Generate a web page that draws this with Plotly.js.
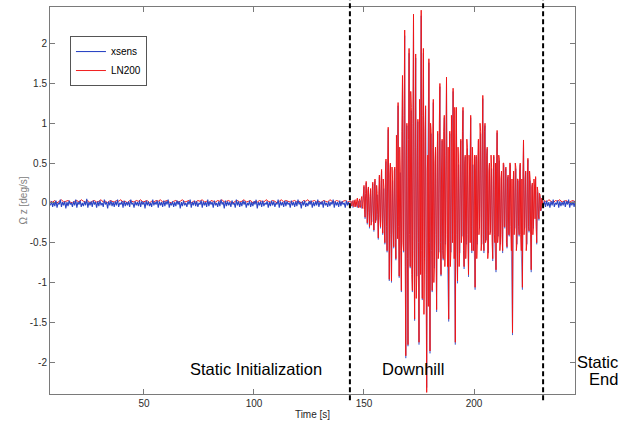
<!DOCTYPE html>
<html><head><meta charset="utf-8">
<script src="https://cdn.plot.ly/plotly-3.0.1.min.js"></script>
<style>html,body{margin:0;padding:0;background:#fff}#chart{width:629px;height:422px}</style>
</head><body><div id="chart"></div>
<script>
// ---- sampling (start time [s], step [s]) ----
const xsensStaticInitStart = 7.5, xsensStaticInitStep = 0.5;
const ln200StaticInitStart = 7.5, ln200StaticInitStep = 1.0;
const ln200DownhillStart = 144.0, ln200DownhillStep = 0.25;
const xsensDownhillStart = 144.0, xsensDownhillStep = 0.5;
const xsensStaticEndStart = 231.5, xsensStaticEndStep = 0.5;
const ln200StaticEndStart = 232.0, ln200StaticEndStep = 1.0;

// ---- values: angular rate about z [deg/s] ----
const xsensStaticInit = [
-0.03,0.02,-0.05,0.01,-0.04,0.03,-0.06,0.00,-0.02,0.04,-0.05,0.01,-0.03,0.02,-0.07,0.01,-0.04,0.03,-0.02,0.00,
-0.05,0.02,-0.03,0.04,-0.06,0.01,-0.02,0.03,-0.05,0.00,-0.04,0.02,-0.03,0.05,-0.06,0.01,-0.03,0.02,-0.05,0.03,
-0.02,0.01,-0.06,0.02,-0.04,0.03,-0.03,0.00,-0.05,0.04,-0.02,0.01,-0.07,0.02,-0.03,0.03,-0.04,0.01,-0.05,0.02,
-0.03,0.04,-0.05,0.00,-0.02,0.02,-0.06,0.03,-0.04,0.01,-0.03,0.02,-0.05,0.04,-0.02,0.00,-0.06,0.02,-0.03,0.01,
-0.04,0.03,-0.05,0.02,-0.02,0.01,-0.07,0.03,-0.03,0.02,-0.04,0.00,-0.05,0.04,-0.03,0.01,-0.02,0.03,-0.06,0.02,
-0.03,0.01,-0.05,0.03,-0.04,0.02,-0.02,0.04,-0.06,0.00,-0.03,0.02,-0.05,0.01,-0.04,0.03,-0.02,0.02,-0.07,0.01,
-0.04,0.03,-0.03,0.00,-0.05,0.02,-0.02,0.04,-0.06,0.01,-0.03,0.03,-0.04,0.02,-0.05,0.00,-0.02,0.03,-0.06,0.02,
-0.03,0.01,-0.05,0.04,-0.04,0.02,-0.02,0.01,-0.06,0.03,-0.03,0.00,-0.05,0.02,-0.04,0.04,-0.02,0.01,-0.07,0.03,
-0.04,0.02,-0.03,0.01,-0.05,0.03,-0.02,0.00,-0.06,0.04,-0.03,0.02,-0.05,0.01,-0.04,0.03,-0.02,0.02,-0.06,0.00,
-0.03,0.03,-0.05,0.01,-0.04,0.02,-0.02,0.04,-0.07,0.01,-0.03,0.02,-0.05,0.03,-0.04,0.00,-0.02,0.02,-0.06,0.01,
-0.04,0.03,-0.03,0.02,-0.05,0.00,-0.02,0.04,-0.06,0.02,-0.03,0.01,-0.05,0.03,-0.04,0.02,-0.02,0.00,-0.06,0.03,
-0.03,0.01,-0.05,0.02,-0.04,0.04,-0.02,0.01,-0.07,0.02,-0.03,0.03,-0.05,0.00,-0.04,0.02,-0.02,0.03,-0.06,0.01,
-0.04,0.02,-0.03,0.04,-0.05,0.01,-0.02,0.02,-0.06,0.03,-0.03,0.00,-0.05,0.02,-0.04,0.01,-0.02,0.04,-0.06,0.02,
-0.03,0.01,-0.05,0.03,-0.04,0.02,-0.02,0.00,-0.06,0.03,-0.03,0.01,-0.04
];
const ln200StaticInit = [
0.02,0.01,0.03,0.00,0.02,0.04,0.01,0.02,0.03,0.01,0.00,0.02,0.03,0.01,0.04,0.02,0.01,0.03,0.00,0.02,
0.03,0.01,0.02,0.04,0.01,0.02,0.00,0.03,0.02,0.01,0.03,0.02,0.04,0.01,0.02,0.00,0.03,0.02,0.01,0.03,
0.02,0.04,0.01,0.02,0.03,0.00,0.02,0.01,0.03,0.02,0.04,0.01,0.02,0.03,0.01,0.00,0.02,0.03,0.01,0.02,
0.04,0.01,0.02,0.03,0.00,0.02,0.01,0.03,0.02,0.04,0.01,0.02,0.00,0.03,0.02,0.01,0.03,0.02,0.04,0.01,
0.02,0.03,0.01,0.00,0.02,0.03,0.01,0.02,0.04,0.01,0.02,0.03,0.00,0.02,0.01,0.03,0.02,0.01,0.04,0.02,
0.01,0.03,0.02,0.00,0.02,0.04,0.01,0.03,0.02,0.01,0.02,0.03,0.01,0.02,0.00,0.03,0.02,0.04,0.01,0.02,
0.03,0.01,0.02,0.00,0.03,0.02,0.01,0.04,0.02,0.01,0.03,0.02,0.00,0.02,0.03,0.01,0.02
];
// LN200 during the downhill run, one row per 5 s
const ln200Downhill = [
0.02,-0.02,-0.04,0.02,0.03,-0.03,-0.05,0.03,0.04,-0.05,-0.03,0.04,0.06,-0.04,-0.06,0.03,0.05,-0.06,-0.04,0.05,
0.08,-0.05,-0.07,0.10,0.22,-0.08,-0.18,0.12,0.27,0.05,-0.25,0.15,0.20,-0.12,-0.30,0.08,0.18,-0.28,-0.22,0.16,
0.26,-0.10,-0.34,0.20,0.30,-0.25,-0.20,0.22,0.12,-0.15,-0.44,0.10,0.35,-0.18,-0.30,0.28,0.42,-0.20,-0.38,0.30,
0.20,-0.35,-0.50,0.40,0.55,-0.30,-0.60,0.45,0.95,0.20,-0.96,0.35,0.50,-0.40,-0.98,0.45,0.30,-0.35,-0.55,0.40,
0.45,-0.50,-0.70,0.85,0.60,-0.45,1.26,-0.30,-0.92,0.70,0.40,-0.60,-1.10,0.90,1.60,-0.50,-0.60,1.10,2.17,-0.80,
-1.92,0.60,1.00,-0.70,-1.78,0.80,1.94,-0.40,-0.80,1.40,1.20,-0.90,-1.10,1.00,2.37,-0.60,-1.46,0.70,1.87,-1.20,
-0.90,0.60,1.05,-0.50,-1.75,1.30,0.80,-0.90,2.42,-0.60,-1.20,1.10,1.94,-1.40,-0.70,0.90,1.22,-0.90,-2.38,0.40,
0.60,-1.30,1.81,-0.50,-1.86,1.00,0.90,-0.60,-1.10,0.70,1.30,-1.00,-0.80,0.50,0.70,-0.40,-1.34,0.60,0.90,-0.70,
-0.60,1.00,1.50,-0.50,-0.90,0.40,0.80,-0.60,-0.70,0.90,1.10,-0.80,-0.50,0.60,1.58,-0.40,-0.80,0.70,-1.46,0.50,
0.90,-0.80,-0.60,1.10,0.70,-0.50,1.44,0.30,-0.70,1.20,-1.75,0.40,1.20,-0.40,-0.98,0.70,0.50,-0.80,-0.60,0.60,
0.80,-0.50,-0.40,0.90,1.20,-0.60,-0.80,0.50,0.60,-0.70,-0.50,0.80,0.70,-0.40,-0.90,0.60,0.40,-0.50,1.10,-0.30,
-0.60,0.70,0.50,-0.60,-0.40,0.60,-1.06,0.40,0.60,-0.70,-0.50,0.50,0.80,-0.40,-0.30,1.00,0.90,-0.60,-0.50,0.80,
1.35,-0.40,-0.60,0.90,1.00,-0.50,-0.45,0.60,0.70,-0.70,-0.60,0.40,0.50,-0.40,-0.35,0.60,0.45,-0.50,-0.70,0.30,
0.60,-0.40,-0.50,0.50,-0.84,0.40,0.91,-0.50,-0.40,0.60,0.55,-0.60,-0.50,0.30,0.40,-0.40,-0.60,0.50,0.50,-0.30,
-0.30,0.40,0.45,-0.50,-0.55,0.30,0.35,-0.40,-0.40,0.50,0.50,-0.30,-0.60,0.30,-1.63,0.20,0.40,-0.40,-0.30,0.50,
0.45,-0.60,-0.50,0.30,0.30,-0.30,-0.40,0.40,0.50,-0.40,-0.60,0.30,-1.06,0.40,0.79,-0.40,-0.30,0.30,0.40,-0.60,
-0.50,0.30,0.56,-0.30,-0.35,0.40,0.30,-0.40,-0.84,0.20,0.25,-0.40,-0.30,0.30,0.20,-0.20,0.33,-0.30,-0.50,0.20,
0.15,-0.15,-0.20,0.12,0.10,-0.10,-0.08,0.06,0.04,-0.05,-0.03
];
// xsens during the downhill run
const xsensDownhill = [
-0.05,0.02,-0.06,0.03,-0.04,0.01,-0.06,0.02,-0.05,0.03,
-0.07,0.04,0.20,-0.20,0.25,-0.27,0.18,-0.32,0.16,-0.24,
0.24,-0.36,0.28,-0.22,0.10,-0.46,0.33,-0.32,0.40,-0.40,
0.18,-0.52,0.52,-0.62,0.92,-0.98,0.48,-1.00,0.28,-0.57,
0.43,-0.72,0.58,1.22,-0.94,0.38,-1.12,1.55,-0.62,2.10,
-1.95,0.97,-1.80,1.88,-0.82,1.16,-1.12,2.30,-1.48,1.82,
-0.92,1.02,-1.78,0.78,2.35,-1.22,1.88,-0.72,1.18,-2.32,
0.58,1.76,-1.89,0.87,-1.12,1.26,-0.82,0.68,-1.37,0.87,
-0.62,1.46,-0.92,0.78,-0.72,1.07,-0.52,1.53,-0.82,-1.49,
0.87,-0.62,0.68,1.40,-0.72,-1.78,1.16,-1.01,0.48,-0.63,
0.78,-0.42,1.16,-0.83,0.58,-0.52,0.68,-0.93,0.38,1.07,
-0.63,0.48,-0.42,-1.09,0.58,-0.52,0.78,-0.32,0.87,-0.52,
1.31,-0.63,0.97,-0.47,0.68,-0.63,0.48,-0.37,0.43,-0.73,
0.58,-0.52,-0.87,0.88,-0.42,0.53,-0.52,0.38,-0.63,0.48,
-0.32,0.43,-0.57,0.33,-0.42,0.48,-0.63,-1.66,0.38,-0.32,
0.43,-0.52,0.28,-0.42,0.48,-0.63,-1.09,0.76,-0.32,0.38,
-0.52,0.54,-0.37,0.28,-0.87,0.23,-0.32,0.18,0.31,-0.52,
0.13,-0.22,0.08,-0.10,0.02,-0.05
];
const xsensStaticEnd = [
-0.03,0.02,-0.05,0.03,-0.04,0.01,-0.06,0.02,-0.03,0.04,-0.05,0.00,-0.02,0.03,-0.06,
0.02,-0.04,0.01,-0.03,0.03,-0.05,0.02,-0.02,0.04,-0.06,0.01,-0.03,0.02,-0.05,0.03
];
const ln200StaticEnd = [0.03,0.01,0.04,0.02,0.00,0.03,0.02,0.04,0.01,0.02,0.03,0.00,0.02,0.03,0.01];

// ---- annotations / axes text ----
const phaseBoundaries = [143.6, 231.4];
const phaseLabels = ['Static Initialization', 'Downhill'];
const phaseLabelX = [100.9, 172.3];
const endLabelLines = ['Static', 'End'];
const xTicks = [50, 100, 150, 200];
const yTicks = [-2, -1.5, -1, -0.5, 0, 0.5, 1, 1.5, 2];
const seriesNames = ['xsens', 'LN200'];

function times(start, step, n) {
  return Array.from({length: n}, (_, i) => +(start + i * step).toFixed(3));
}

const blue = '#2c46c4', red = '#f01414';

const lnX = times(ln200StaticInitStart, ln200StaticInitStep, ln200StaticInit.length)
  .concat(times(ln200DownhillStart, ln200DownhillStep, ln200Downhill.length))
  .concat(times(ln200StaticEndStart, ln200StaticEndStep, ln200StaticEnd.length));
const lnY = ln200StaticInit.concat(ln200Downhill).concat(ln200StaticEnd);

const xsStaticX = times(xsensStaticInitStart, xsensStaticInitStep, xsensStaticInit.length)
  .concat([null])
  .concat(times(xsensStaticEndStart, xsensStaticEndStep, xsensStaticEnd.length));
const xsStaticY = xsensStaticInit.concat([null]).concat(xsensStaticEnd);

// drawing order: xsens (downhill) under LN200, xsens (static) on top; legend reversed -> xsens, LN200
const traces = [
  {x: times(xsensDownhillStart, xsensDownhillStep, xsensDownhill.length), y: xsensDownhill,
   type: 'scatter', mode: 'lines', name: seriesNames[0], showlegend: false, legendgroup: 'x',
   line: {color: blue, width: 0.6, simplify: false}},
  {x: lnX, y: lnY, type: 'scatter', mode: 'lines', name: seriesNames[1],
   line: {color: red, width: 0.95, simplify: false}},
  {x: xsStaticX, y: xsStaticY, type: 'scatter', mode: 'lines', name: seriesNames[0],
   legendgroup: 'x', line: {color: blue, width: 1.1, simplify: false}}
];

const fam = 'Liberation Sans, Arial, sans-serif';
const tickFont = {family: fam, size: 10, color: '#2b2b2b'};
const labelFont = {family: fam, size: 16.5, color: '#000'};

const annotations = phaseLabels.map((t, i) => ({
  x: phaseLabelX[i], y: -2.09, xref: 'x', yref: 'y', text: t, showarrow: false,
  font: labelFont, xanchor: 'center', yanchor: 'middle'
}));
annotations.push({x: 1.086, y: -2.0, xref: 'paper', yref: 'y', text: endLabelLines[0], showarrow: false,
  font: labelFont, xanchor: 'right', yanchor: 'middle'});
annotations.push({x: 1.086, y: -2.21, xref: 'paper', yref: 'y', text: endLabelLines[1], showarrow: false,
  font: labelFont, xanchor: 'right', yanchor: 'middle'});

const shapes = phaseBoundaries.map(b => ({
  type: 'line', xref: 'x', yref: 'paper', x0: b, x1: b, y0: -0.016, y1: 1.02,
  line: {color: '#000', width: 2, dash: '5px,3px'}
}));

const layout = {
  width: 629, height: 422,
  margin: {l: 50, r: 54, t: 7, b: 28},
  paper_bgcolor: '#fff', plot_bgcolor: '#fff',
  showlegend: true,
  legend: {x: 0.038, y: 0.925, xanchor: 'left', yanchor: 'top', bgcolor: '#fff', traceorder: 'reversed',
    bordercolor: '#555', borderwidth: 1, font: {family: fam, size: 10, color: '#000'},
    tracegroupgap: 0, itemwidth: 30},
  xaxis: {range: [7.3, 245.9], tickvals: xTicks, ticktext: xTicks.map(String), ticks: 'inside', ticklen: 5,
    tickcolor: '#7a7a7a', showline: true, linecolor: '#7a7a7a', linewidth: 1, mirror: 'ticks',
    showgrid: false, zeroline: false, tickfont: tickFont, automargin: false,
    title: {text: 'Time [s]', font: {family: fam, size: 10, color: '#262626'}, standoff: 2}},
  yaxis: {range: [-2.4, 2.46], tickvals: yTicks, ticktext: yTicks.map(String), ticks: 'inside', ticklen: 5,
    tickcolor: '#7a7a7a', showline: true, linecolor: '#7a7a7a', linewidth: 1, mirror: 'ticks',
    showgrid: false, zeroline: false, tickfont: tickFont, automargin: false,
    title: {text: 'Ω z [deg/s]', font: {family: fam, size: 10, color: '#808080'}, standoff: 0}},
  annotations: annotations,
  shapes: shapes
};

Plotly.newPlot('chart', traces, layout, {staticPlot: true, displayModeBar: false});
</script></body></html>
